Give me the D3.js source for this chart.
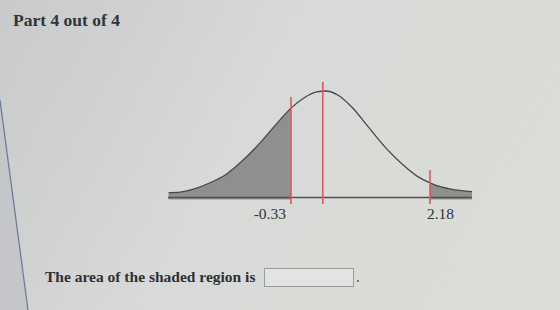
<!DOCTYPE html>
<html>
<head>
<meta charset="utf-8">
<script src="https://cdn.jsdelivr.net/npm/d3@7"></script>
<style>
  html, body { margin: 0; padding: 0; background: #d5d7d4; }
  svg { display: block; }
</style>
</head>
<body>
<script>
// curve: z position and relative height
const curveZ = [-2.79, -2.58, -2.34, -2.04, -1.74, -1.44, -1.14, -0.83, -0.58, -0.35, -0.11, 0.06, 0.27, 0.52, 0.82, 1.12, 1.42, 1.72, 1.96, 2.32, 2.70];
const curveH = [0.020, 0.022, 0.033, 0.057, 0.090, 0.142, 0.205, 0.279, 0.335, 0.373, 0.397, 0.400, 0.385, 0.341, 0.267, 0.192, 0.130, 0.080, 0.055, 0.033, 0.024];

// red markers: mean and the two cut points (drawn position, top height)
const markerZ = [-0.575, 0, 1.94];
const markerTop = [0.378, 0.434, 0.105];

// tick labels under the cut points
const tickLabels = ["-0.33", "2.18"];
const tickZ = [-0.575, 1.94];

const width = 560, height = 310;

const svg = d3.select("body").append("svg")
    .attr("width", width)
    .attr("height", height);

// background, a photo of a screen
const defs = svg.append("defs");
const bg = defs.append("linearGradient").attr("id", "bg")
    .attr("x1", 0).attr("y1", 0).attr("x2", 1).attr("y2", 0.3);
bg.append("stop").attr("offset", 0).attr("stop-color", "#c8cacc");
bg.append("stop").attr("offset", 0.5).attr("stop-color", "#d8dad7");
bg.append("stop").attr("offset", 1).attr("stop-color", "#dadcd8");
svg.append("rect").attr("width", width).attr("height", height).attr("fill", "url(#bg)");

// left panel edge
svg.append("path")
    .attr("d", "M0,100L28,310L0,310Z")
    .attr("fill", "#c4c6ca");
svg.append("line")
    .attr("x1", 0).attr("y1", 100).attr("x2", 28).attr("y2", 310)
    .attr("stroke", "#6b7d9b").attr("stroke-width", 1.3);

// title
svg.append("text")
    .attr("x", 13).attr("y", 26)
    .attr("font-family", "Liberation Serif, Times New Roman, serif")
    .attr("font-weight", "bold")
    .attr("font-size", 17.5)
    .attr("fill", "#333338")
    .text("Part 4 out of 4");

// scales
const x = d3.scaleLinear().domain([-2.8, 2.7]).range([168, 472]);
const y = d3.scaleLinear().domain([0, 0.4]).range([198, 91]);

const pts = curveZ.map((z, i) => [z, curveH[i]]);

// clip for the shaded tails
const clip = defs.append("clipPath").attr("id", "tails");
clip.append("rect")
    .attr("x", x(-2.8)).attr("y", 0)
    .attr("width", x(tickZ[0]) - x(-2.8)).attr("height", height);
clip.append("rect")
    .attr("x", x(tickZ[1])).attr("y", 0)
    .attr("width", x(2.7) - x(tickZ[1])).attr("height", height);

const area = d3.area()
    .x(d => x(d[0]))
    .y0(y(0) + 1.5)
    .y1(d => y(d[1]))
    .curve(d3.curveMonotoneX);

svg.append("path")
    .datum(pts)
    .attr("d", area)
    .attr("clip-path", "url(#tails)")
    .attr("fill", "#8d908d");

// baseline
svg.append("line")
    .attr("x1", x(-2.8)).attr("x2", x(2.7))
    .attr("y1", y(0) - 0.5).attr("y2", y(0) - 0.5)
    .attr("stroke", "#4f5150").attr("stroke-width", 1.3);

// curve
const line = d3.line()
    .x(d => x(d[0]))
    .y(d => y(d[1]))
    .curve(d3.curveMonotoneX);

svg.append("path")
    .datum(pts)
    .attr("d", line)
    .attr("fill", "none")
    .attr("stroke", "#474948")
    .attr("stroke-width", 1.3);

// red markers
svg.selectAll("line.marker")
    .data(markerZ)
    .enter()
    .append("line")
    .attr("class", "marker")
    .attr("x1", d => x(d)).attr("x2", d => x(d))
    .attr("y1", (d, i) => y(markerTop[i]))
    .attr("y2", y(-0.022))
    .attr("stroke", "#e0565d")
    .attr("stroke-width", 1.6);

// tick labels
svg.selectAll("text.tick")
    .data(tickLabels)
    .enter()
    .append("text")
    .attr("class", "tick")
    .attr("x", (d, i) => i === 0 ? x(tickZ[i]) - 5 : x(tickZ[i]) - 3)
    .attr("y", 219)
    .attr("text-anchor", (d, i) => i === 0 ? "end" : "start")
    .attr("font-family", "Liberation Serif, Times New Roman, serif")
    .attr("font-size", 15.5)
    .attr("fill", "#333")
    .text(d => d);

// answer line
svg.append("text")
    .attr("x", 45).attr("y", 282)
    .attr("font-family", "Liberation Serif, Times New Roman, serif")
    .attr("font-weight", "bold")
    .attr("font-size", 15.5)
    .attr("fill", "#2f3033")
    .text("The area of the shaded region is");

svg.append("rect")
    .attr("x", 264.5).attr("y", 268.5)
    .attr("width", 89).attr("height", 18)
    .attr("fill", "#e2e4e2")
    .attr("stroke", "#9a9c9c");

svg.append("circle")
    .attr("cx", 358).attr("cy", 281)
    .attr("r", 1)
    .attr("fill", "#555");
</script>
</body>
</html>
